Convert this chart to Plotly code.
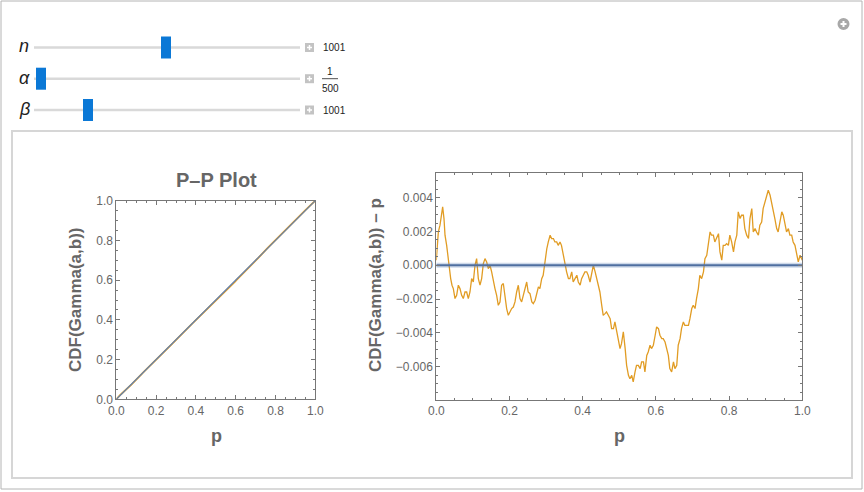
import plotly.graph_objects as go

# ---------------- data ----------------
p_vals = [0.000, 0.0025, 0.0056, 0.0101, 0.0147, 0.0174, 0.0210, 0.0238, 0.0283, 0.0329, 0.0356, 0.0393, 0.0429,
          0.0465, 0.0511, 0.0556, 0.0602, 0.0647, 0.0693, 0.0738, 0.0784, 0.0829, 0.0875, 0.0920, 0.0966,
          0.1011, 0.1057, 0.1102, 0.1148, 0.1194, 0.1239, 0.1285, 0.1330, 0.1376, 0.1421, 0.1467, 0.1512,
          0.1558, 0.1603, 0.1649, 0.1694, 0.1740, 0.1785, 0.1831, 0.1876, 0.1922, 0.1968, 0.2013, 0.2059,
          0.2104, 0.2150, 0.2195, 0.2241, 0.2286, 0.2332, 0.2377,
          0.242, 0.247, 0.251, 0.256, 0.261, 0.265, 0.270, 0.274, 0.279, 0.283, 0.288, 0.292, 0.297, 0.302,
          0.306, 0.311, 0.315, 0.320, 0.324, 0.329, 0.333, 0.338, 0.342, 0.347, 0.352, 0.356, 0.361, 0.365,
          0.370, 0.374, 0.379, 0.384, 0.388, 0.393, 0.397, 0.402, 0.406, 0.411, 0.415, 0.420, 0.424, 0.429,
          0.434, 0.438, 0.443, 0.447, 0.452, 0.456, 0.461, 0.465, 0.470, 0.475, 0.479, 0.484, 0.488, 0.493,
          0.497, 0.502, 0.506, 0.511, 0.516, 0.520, 0.525, 0.529, 0.534, 0.538, 0.543, 0.547, 0.552, 0.557,
          0.561, 0.566, 0.570, 0.575, 0.579, 0.584, 0.588, 0.593, 0.598, 0.602, 0.607, 0.611, 0.616, 0.620,
          0.625, 0.629, 0.634, 0.638, 0.643, 0.648, 0.652, 0.657, 0.661, 0.666, 0.670, 0.675, 0.679, 0.684,
          0.689, 0.693, 0.698, 0.702, 0.707, 0.711, 0.716, 0.720, 0.725, 0.730, 0.734, 0.739, 0.743, 0.748,
          0.752, 0.757, 0.761, 0.766, 0.771, 0.775, 0.780, 0.784, 0.789, 0.793, 0.798, 0.802, 0.807, 0.812,
          0.816, 0.821, 0.825, 0.830, 0.834, 0.839, 0.843, 0.848, 0.853, 0.857, 0.862, 0.866, 0.871, 0.875,
          0.880, 0.884, 0.889, 0.893, 0.898, 0.903, 0.907, 0.912, 0.916, 0.921, 0.925, 0.930, 0.934, 0.939,
          0.944, 0.948, 0.953, 0.957, 0.962, 0.966, 0.971, 0.975, 0.980, 0.985, 0.989, 0.994, 1.000]

# CDF(Gamma(a,b)) - p, in units of 1e-3
diff_milli = [0.3, 1.2, 1.97, 2.37, 3.16, 3.45, 2.76, 1.78, 1.18, 0.39, -0.39, -0.79, -1.18,
              -1.38, -1.97, -1.78, -1.18, -1.38, -1.78, -1.97, -1.58, -1.58, -1.97, -1.58, -0.79,
              -0.99, 0.0, 0.39, -0.79, -1.18, -0.79, 0.10, 0.39, 0.20, -0.20, 0.0, -0.39,
              -0.99, -1.38, -1.78, -2.37, -2.17, -1.18, -1.08, -1.97, -2.56, -2.96, -2.76, -2.56,
              -2.47, -2.17, -1.58, -1.18, -1.97, -2.17, -1.78,
              -1.48, -0.99, -1.58, -1.68, -2.17, -2.27, -2.07, -1.68, -1.28, -1.38, -0.79, -0.59, 0.39, 0.99,
              1.38, 1.78, 1.58, 1.58, 1.38, 1.38, 1.18, 1.38, 1.18, 0.59, 0.0, -0.39, -0.79, -0.79,
              -0.39, -0.99, -0.79, -0.59, -0.99, -1.18, -0.79, -0.59, -0.39, -0.39, -0.59, -0.99, -0.59, 0.0,
              -0.39, -0.79, -1.38, -1.58, -2.37, -2.96, -2.86, -2.76, -2.96, -3.16, -3.75, -3.75, -3.35, -3.94,
              -4.54, -4.93, -4.64, -3.94, -4.93, -5.92, -6.51, -6.71, -6.51, -6.90, -6.31, -5.92, -5.92, -6.11,
              -5.72, -5.72, -6.31, -5.33, -5.13, -4.73, -4.93, -4.73, -4.14, -3.65, -3.75, -4.14, -4.34, -4.34,
              -4.54, -4.93, -5.33, -6.11, -6.31, -5.72, -6.11, -5.92, -4.73, -4.34, -3.75, -3.35, -3.55, -3.55,
              -3.55, -3.16, -2.56, -2.37, -2.56, -1.97, -1.38, -0.59, -0.79, -0.39, 0.39, 0.59, 1.38, 1.97,
              1.78, 1.78, 1.38, 1.68, 1.87, 0.79, 0.30, 1.18, 1.18, 1.28, 1.18, 1.78, 1.38, 0.79,
              1.38, 1.78, 3.16, 2.76, 2.96, 2.96, 2.17, 1.78, 1.58, 2.76, 3.35, 1.97, 2.17, 1.97,
              1.78, 2.37, 2.56, 3.35, 3.75, 4.14, 4.44, 4.14, 3.75, 3.16, 2.76, 2.17, 1.97, 2.56,
              3.16, 2.96, 2.37, 1.97, 2.17, 1.78, 1.78, 1.38, 1.18, 0.59, 0.20, 0.59, 0.3]

diag_x = [0.0, 1.0]
x_ticks_pp = [0.0, 0.2, 0.4, 0.6, 0.8, 1.0]

slider_labels = ["n", "α", "β"]
slider_values = ["1001", "1/500", "1001"]

# ---------------- styling ----------------
W, H = 864, 492
ORANGE = "#E19C24"
BLUE = "#4f6fa0"
GRAY = "#666666"
FONT = "Liberation Sans, Arial, sans-serif"


def px(x):
    return x / W


def py(y):
    return 1 - y / H


diff_vals = [d * 1e-3 for d in diff_milli]
pp_y = [p + d for p, d in zip(p_vals, diff_vals)]

fig = go.Figure()

# Left P-P plot
fig.add_trace(go.Scatter(x=p_vals, y=pp_y, mode="lines", line=dict(color=ORANGE, width=1.8),
                         xaxis="x", yaxis="y", showlegend=False, hoverinfo="skip"))
fig.add_trace(go.Scatter(x=diag_x, y=diag_x, mode="lines", line=dict(color="#5E81B5", width=1.1),
                         xaxis="x", yaxis="y", showlegend=False, hoverinfo="skip"))

# Right difference plot
fig.add_trace(go.Scatter(x=p_vals, y=diff_vals, mode="lines", line=dict(color=ORANGE, width=1.3),
                         xaxis="x2", yaxis="y2", showlegend=False, hoverinfo="skip"))
fig.add_trace(go.Scatter(x=diag_x, y=[0, 0], mode="lines", line=dict(color="rgba(94,129,181,0.3)", width=5),
                         xaxis="x2", yaxis="y2", showlegend=False, hoverinfo="skip"))
fig.add_trace(go.Scatter(x=diag_x, y=[0, 0], mode="lines", line=dict(color=BLUE, width=2.2),
                         xaxis="x2", yaxis="y2", showlegend=False, hoverinfo="skip"))

axis_common = dict(showgrid=False, zeroline=False, showline=True, linecolor="#777777", linewidth=1,
                   mirror="ticks", ticks="inside", ticklen=4, tickcolor="#777777", automargin=False,
                   tickfont=dict(family=FONT, size=12, color=GRAY), fixedrange=True)

fig.update_layout(
    width=W, height=H, margin=dict(l=0, r=0, t=0, b=0, pad=0, autoexpand=False),
    paper_bgcolor="white", plot_bgcolor="white",
    xaxis=dict(domain=[px(116.3), px(315.3)], range=[0, 1], tickvals=x_ticks_pp, tickformat=".1f",
               minor=dict(dtick=0.05, ticklen=2, ticks="inside", tickcolor="#777777"),
               anchor="y", **axis_common),
    yaxis=dict(domain=[py(399.3), py(200.7)], range=[0, 1], tickvals=x_ticks_pp, tickformat=".1f",
               minor=dict(dtick=0.05, ticklen=2, ticks="inside", tickcolor="#777777"),
               anchor="x", **axis_common),
    xaxis2=dict(domain=[px(436.3), px(802.3)], range=[0, 1], tickvals=x_ticks_pp, tickformat=".1f",
                minor=dict(dtick=0.05, ticklen=2, ticks="inside", tickcolor="#777777"),
                anchor="y2", **axis_common),
    yaxis2=dict(domain=[py(400), py(173.3)], range=[-0.00797, 0.00544], dtick=0.002, tick0=0,
                tickformat=".3f",
                minor=dict(dtick=0.0005, ticklen=2, ticks="inside", tickcolor="#777777"),
                anchor="x2", **axis_common),
)

shapes = []
# outer frame
shapes.append(dict(type="rect", xref="paper", yref="paper", x0=px(1), x1=px(862), y0=py(489), y1=py(1),
                   line=dict(color="#b4b4b4", width=1), fillcolor="rgba(0,0,0,0)", layer="below"))
# inner content panel
shapes.append(dict(type="rect", xref="paper", yref="paper", x0=px(12), x1=px(852), y0=py(478), y1=py(131),
                   line=dict(color="#d6d6d6", width=2), fillcolor="white", layer="below"))

annotations = []
slider_rows = [47.5, 78.7, 110.0]
thumb_x = [166, 41, 88]
for lab, val, yc, tx in zip(slider_labels, slider_values, slider_rows, thumb_x):
    # track
    shapes.append(dict(type="rect", xref="paper", yref="paper", x0=px(34), x1=px(300),
                       y0=py(yc + 1.3), y1=py(yc - 1.3), line=dict(width=0), fillcolor="#d9d9d9"))
    # thumb
    shapes.append(dict(type="rect", xref="paper", yref="paper", x0=px(tx - 5), x1=px(tx + 5),
                       y0=py(yc + 11), y1=py(yc - 11), line=dict(width=0), fillcolor="#0b78d6"))
    # plus box
    shapes.append(dict(type="rect", xref="paper", yref="paper", x0=px(305), x1=px(314),
                       y0=py(yc + 4.5), y1=py(yc - 4.5), line=dict(width=0), fillcolor="#c3c3c3"))
    shapes.append(dict(type="line", xref="paper", yref="paper", x0=px(307), x1=px(312),
                       y0=py(yc), y1=py(yc), line=dict(color="white", width=1.5)))
    shapes.append(dict(type="line", xref="paper", yref="paper", x0=px(309.5), x1=px(309.5),
                       y0=py(yc + 2.5), y1=py(yc - 2.5), line=dict(color="white", width=1.5)))
    annotations.append(dict(xref="paper", yref="paper", x=px(24), y=py(yc - 1), text="<i>" + lab + "</i>",
                            showarrow=False, font=dict(family="Liberation Sans, Arial, sans-serif", size=18,
                                                       color="#222222"),
                            xanchor="center", yanchor="middle"))
    if "/" in val:
        num, den = val.split("/")
        annotations.append(dict(xref="paper", yref="paper", x=px(330), y=py(yc - 7.5), text=num,
                                showarrow=False, font=dict(family=FONT, size=10, color="#222222"),
                                xanchor="center", yanchor="middle"))
        annotations.append(dict(xref="paper", yref="paper", x=px(330), y=py(yc + 9.5), text=den,
                                showarrow=False, font=dict(family=FONT, size=10, color="#222222"),
                                xanchor="center", yanchor="middle"))
        shapes.append(dict(type="line", xref="paper", yref="paper", x0=px(322), x1=px(338),
                           y0=py(yc), y1=py(yc), line=dict(color="#222222", width=0.8)))
    else:
        annotations.append(dict(xref="paper", yref="paper", x=px(320.5), y=py(yc), text=val, showarrow=False,
                                font=dict(family=FONT, size=10, color="#222222"),
                                xanchor="left", yanchor="middle"))

# circled plus icon (top right)
shapes.append(dict(type="circle", xref="paper", yref="paper", x0=px(837.5), x1=px(849.5),
                   y0=py(30), y1=py(18), line=dict(width=0), fillcolor="#a8a8a8"))
shapes.append(dict(type="line", xref="paper", yref="paper", x0=px(840.5), x1=px(846.5),
                   y0=py(24), y1=py(24), line=dict(color="white", width=2)))
shapes.append(dict(type="line", xref="paper", yref="paper", x0=px(843.5), x1=px(843.5),
                   y0=py(27), y1=py(21), line=dict(color="white", width=2)))

# titles and axis labels
annotations.append(dict(xref="paper", yref="paper", x=px(216), y=py(180), text="<b>P–P Plot</b>",
                        showarrow=False, font=dict(family=FONT, size=20, color=GRAY),
                        xanchor="center", yanchor="middle"))
annotations.append(dict(xref="paper", yref="paper", x=px(75), y=py(300), text="<b>CDF(Gamma(a,b))</b>",
                        showarrow=False, textangle=-90, font=dict(family=FONT, size=17, color=GRAY),
                        xanchor="center", yanchor="middle"))
annotations.append(dict(xref="paper", yref="paper", x=px(375), y=py(285), text="<b>CDF(Gamma(a,b)) – p</b>",
                        showarrow=False, textangle=-90, font=dict(family=FONT, size=17, color=GRAY),
                        xanchor="center", yanchor="middle"))
annotations.append(dict(xref="paper", yref="paper", x=px(216), y=py(436), text="<b>p</b>",
                        showarrow=False, font=dict(family=FONT, size=18, color=GRAY),
                        xanchor="center", yanchor="middle"))
annotations.append(dict(xref="paper", yref="paper", x=px(619), y=py(436), text="<b>p</b>",
                        showarrow=False, font=dict(family=FONT, size=18, color=GRAY),
                        xanchor="center", yanchor="middle"))

fig.update_layout(shapes=shapes, annotations=annotations)

fig.write_html("out.html",
               post_script="document.body.style.margin='0px';")
